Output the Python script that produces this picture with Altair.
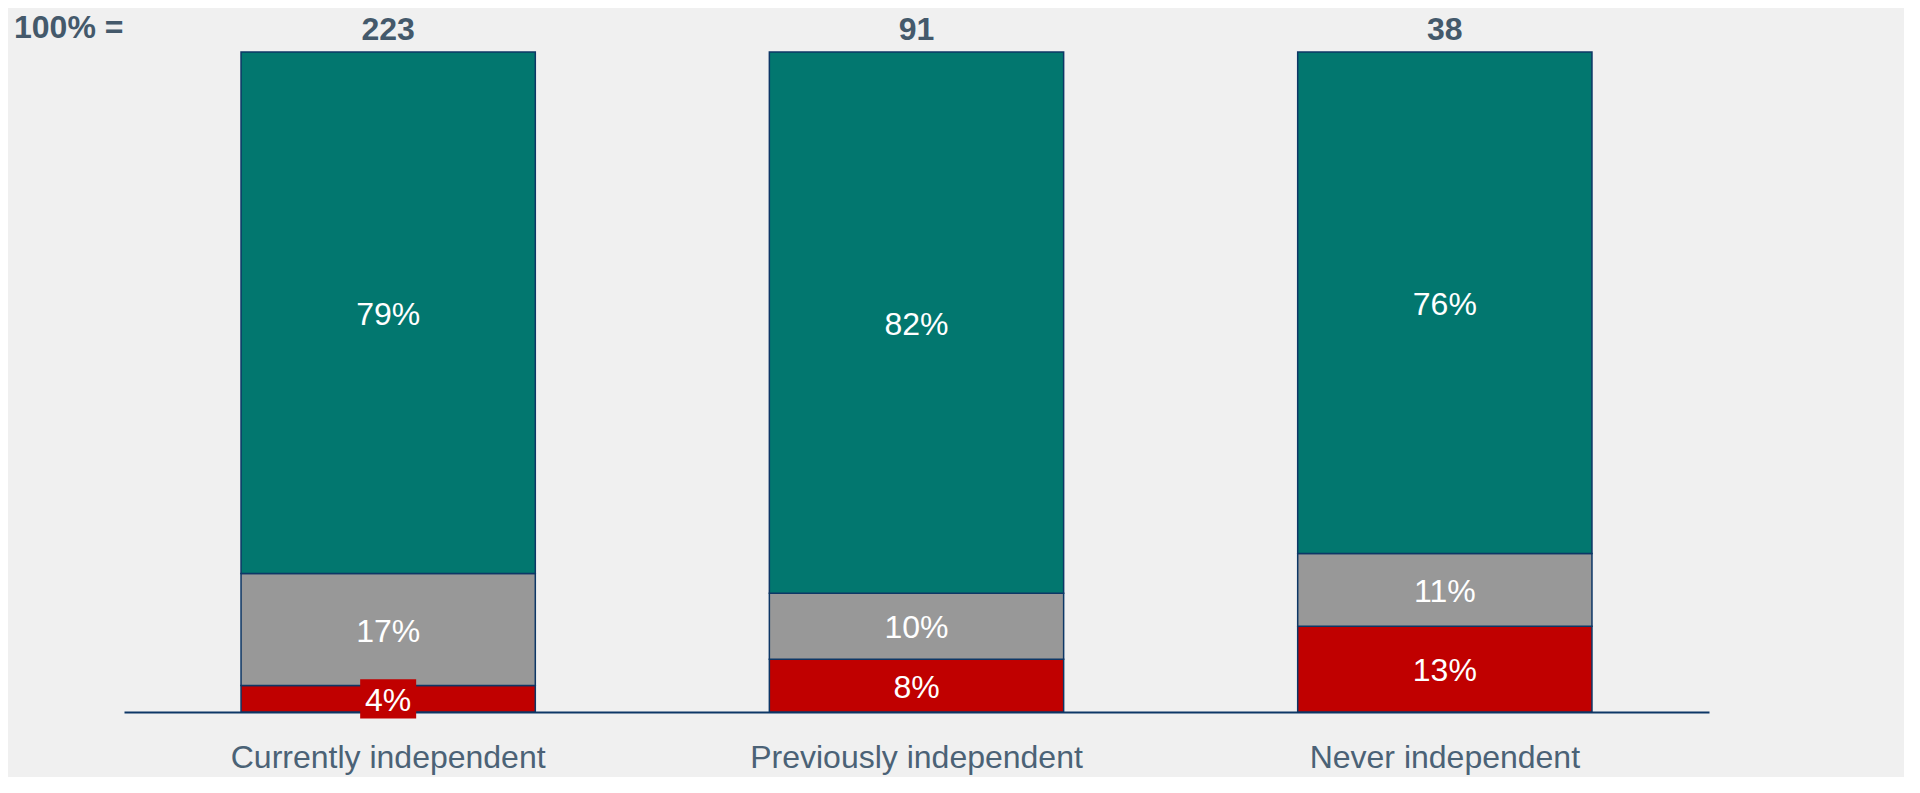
import altair as alt
import pandas as pd

categories = ["Currently independent", "Previously independent", "Never independent"]
totals = [223, 91, 38]
segments = ["Red", "Grey", "Teal"]
red_values = [4, 8, 13]
grey_values = [17, 10, 11]
teal_values = [79, 82, 76]
seg_colors = ["#c00000", "#989898", "#02776f"]

rows = []
for i, cat in enumerate(categories):
    base = 0
    for order, (seg, vals) in enumerate(zip(segments, [red_values, grey_values, teal_values])):
        v = vals[i]
        rows.append({"category": cat, "segment": seg, "order": order, "value": v,
                     "y0": base, "y1": base + v, "mid": base + v / 2, "label": f"{v}%"})
        base += v
df = pd.DataFrame(rows)
tot_df = pd.DataFrame({"category": categories, "total": totals, "top": [100] * 3})

FONT = "Liberation Sans"
FS = 32

x = alt.X("category:N", sort=categories, title=None,
          scale=alt.Scale(paddingInner=0.443, paddingOuter=0.2215),
          axis=alt.Axis(labelAngle=0, labelFontSize=FS, labelColor="#4b6276", labelFont=FONT,
                        ticks=False, domainColor="#0d3766", domainWidth=2, labelPadding=30,
                        labelLimit=0, grid=False))
yscale = alt.Scale(domain=[0, 100], nice=False)

bars = alt.Chart(df).mark_bar(stroke="#0d3766", strokeWidth=1.5).encode(
    x=x,
    y=alt.Y("y0:Q", scale=yscale, axis=None),
    y2="y1:Q",
    color=alt.Color("segment:N", scale=alt.Scale(domain=segments, range=seg_colors), legend=None),
)

label_bg = alt.Chart(df).transform_filter("datum.value < 5").mark_point(
    shape="M-1,-0.7L1,-0.7L1,0.7L-1,0.7Z", size=3136, filled=True, fill="#c00000",
    opacity=1
).encode(x=x, y=alt.Y("mid:Q", scale=yscale))

labels = alt.Chart(df).mark_text(fontSize=FS, color="white", font=FONT, baseline="middle", dy=2).encode(
    x=x, y=alt.Y("mid:Q", scale=yscale), text="label:N")

tot_text = alt.Chart(tot_df).mark_text(fontSize=FS, fontWeight="bold", color="#44596b", font=FONT,
                                       baseline="alphabetic", dy=-12).encode(
    x=x, y=alt.Y("top:Q", scale=yscale), text="total:Q")

head = alt.Chart(tot_df).transform_filter("datum.total == 223").mark_text(
    fontSize=FS, fontWeight="bold", color="#44596b", font=FONT, align="left", baseline="alphabetic"
).encode(x=alt.value(-110), y=alt.value(-14), text=alt.value("100% ="))

chart = alt.layer(bars, label_bg, labels, tot_text, head).properties(
    width=1585, height=660,
    autosize="none",
    padding={"left": 116, "top": 44, "right": 195, "bottom": 65},
    background="#f0f0f0",
).configure_view(stroke=None)

chart.save("out.html", embed_options={"renderer": "svg", "actions": False})
